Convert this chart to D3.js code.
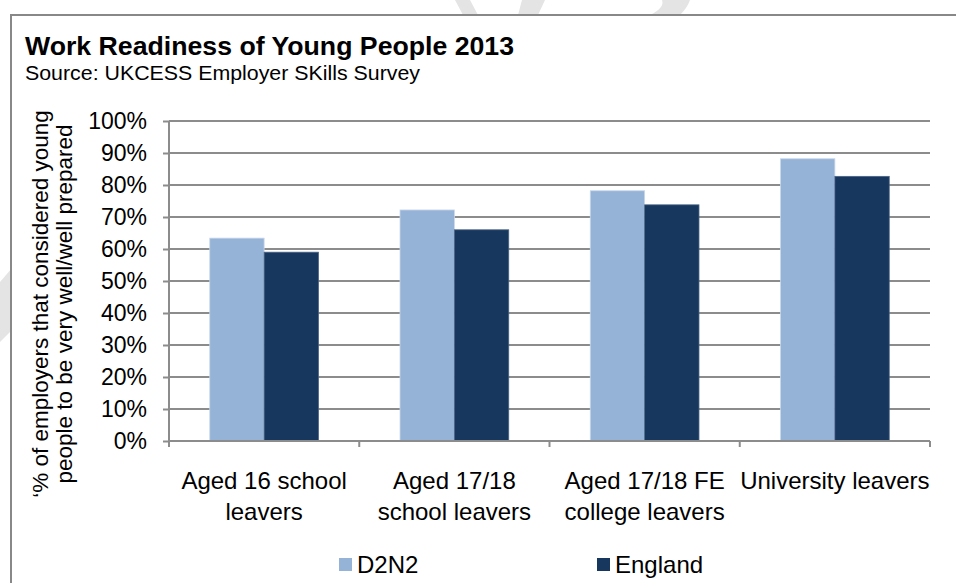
<!DOCTYPE html>
<html>
<head>
<meta charset="utf-8">
<script src="https://cdn.jsdelivr.net/npm/d3@7"></script>
<style>
  body { margin: 0; background: #fff; }
  svg { display: block; font-family: "Liberation Sans", Arial, sans-serif; }
</style>
</head>
<body>
<div id="app"></div>
<script>
// data
const categories = [
  ['Aged 16 school', 'leavers'],
  ['Aged 17/18', 'school leavers'],
  ['Aged 17/18 FE', 'college leavers'],
  ['University leavers']
]
const seriesNames = ['D2N2', 'England']
const d2n2 = [0.634, 0.722, 0.782, 0.882]
const england = [0.59, 0.66, 0.738, 0.827]
const yTicks = [0, 0.1, 0.2, 0.3, 0.4, 0.5, 0.6, 0.7, 0.8, 0.9, 1]
const colors = ['#95b3d7', '#17375e']

const W = 956, H = 583
const plot = {left: 169, right: 930, top: 121, bottom: 441}

const svg = d3.select('#app').append('svg')
    .attr('width', W)
    .attr('height', H)

// faint watermark bits showing outside the chart frame
const wm = svg.append('g').attr('fill', '#e4e4e4')
wm.append('path').attr('d', 'M455,0 L470,0 L478,15 L463,15 Z')
wm.append('path').attr('d', 'M522,0 L545,0 L538,15 L518,15 Z')
wm.append('path').attr('d', 'M600,0 L690,0 C688,6 684,11 680,15 L650,15 C660,10 664,5 662,0 Z')
wm.append('path').attr('d', 'M0,282 L12,268 L12,330 L0,342 Z')

// chart frame
svg.append('rect')
    .attr('x', 11).attr('y', 15)
    .attr('width', W + 20).attr('height', H + 20)
    .attr('fill', '#fff')
    .attr('stroke', '#888')
    .attr('stroke-width', 2)

// titles
svg.append('text')
    .attr('x', 25).attr('y', 55)
    .attr('font-size', 26)
    .attr('font-weight', 'bold')
    .attr('fill', '#000')
    .attr('textLength', 489)
    .attr('lengthAdjust', 'spacingAndGlyphs')
    .text('Work Readiness of Young People 2013')

svg.append('text')
    .attr('x', 25).attr('y', 80)
    .attr('font-size', 20)
    .attr('fill', '#000')
    .attr('textLength', 395)
    .attr('lengthAdjust', 'spacingAndGlyphs')
    .text('Source: UKCESS  Employer SKills Survey')

const x0 = d3.scaleBand()
    .domain(d3.range(categories.length))
    .range([plot.left, plot.right])

const barW = x0.bandwidth() / 3.5
const x1 = d3.scaleBand()
    .domain(seriesNames)
    .range([x0.bandwidth() / 2 - barW, x0.bandwidth() / 2 + barW])

const y = d3.scaleLinear()
    .domain([0, 1])
    .range([plot.bottom, plot.top])

// gridlines
svg.append('g')
    .selectAll('line')
    .data(yTicks.slice(1))
    .join('line')
    .attr('x1', plot.left).attr('x2', plot.right)
    .attr('y1', d => y(d)).attr('y2', d => y(d))
    .attr('stroke', '#8c8c8c')
    .attr('stroke-width', 2)

// bars
const rows = d3.range(categories.length).map(i => ({i, vals: [d2n2[i], england[i]]}))
const groups = svg.append('g')
    .selectAll('g')
    .data(rows)
    .join('g')
    .attr('transform', d => 'translate(' + x0(d.i) + ',0)')

groups.selectAll('rect')
    .data(d => d.vals.map((v, k) => ({name: seriesNames[k], v, k})))
    .join('rect')
    .attr('x', d => x1(d.name))
    .attr('y', d => y(d.v))
    .attr('width', x1.bandwidth())
    .attr('height', d => y(0) - y(d.v))
    .attr('fill', d => colors[d.k])
    .attr('stroke', d => d.k == 0 ? '#c9d7ea' : '#4a6486')
    .attr('stroke-width', 0.8)

// y axis
const yAxis = d3.axisLeft(y)
    .tickValues(yTicks)
    .tickFormat(d3.format('.0%'))
    .tickSize(6)
    .tickPadding(16)

const gy = svg.append('g')
    .attr('transform', 'translate(' + plot.left + ',0)')
    .call(yAxis)
gy.select('.domain').attr('stroke', '#8c8c8c').attr('stroke-width', 2)
    .attr('d', 'M0,' + plot.top + 'V' + plot.bottom)
gy.selectAll('.tick line').attr('stroke', '#8c8c8c').attr('stroke-width', 2)
gy.selectAll('.tick text')
    .attr('font-size', 23)
    .attr('font-family', '"Liberation Sans", Arial, sans-serif')
    .attr('fill', '#000')

// x axis
const xAxis = d3.axisBottom(x0).tickSize(0).tickFormat('')
const gx = svg.append('g')
    .attr('transform', 'translate(0,' + plot.bottom + ')')
    .call(xAxis)
gx.select('.domain').attr('stroke', '#8c8c8c').attr('stroke-width', 2)
    .attr('d', 'M' + plot.left + ',0H' + plot.right)

// category separators
gx.selectAll('.sep')
    .data(d3.range(categories.length + 1))
    .join('line')
    .attr('x1', d => plot.left + d * x0.step())
    .attr('x2', d => plot.left + d * x0.step())
    .attr('y1', 0).attr('y2', 6)
    .attr('stroke', '#8c8c8c')
    .attr('stroke-width', 2)

// category labels
const labels = svg.append('g')
    .selectAll('text')
    .data(categories)
    .join('text')
    .attr('text-anchor', 'middle')
    .attr('font-size', 24)
    .attr('fill', '#000')
labels.selectAll('tspan')
    .data((d, i) => d.map(l => ({l, i})))
    .join('tspan')
    .attr('x', d => x0(d.i) + x0.bandwidth() / 2)
    .attr('y', (d, j) => 489 + j * 31)
    .text(d => d.l)

// y axis title
const yTitle = svg.append('text')
    .attr('transform', 'translate(0,304) rotate(-90)')
    .attr('text-anchor', 'middle')
    .attr('font-size', 22.5)
    .attr('fill', '#000')
yTitle.append('tspan').attr('x', 0).attr('y', 48).text('‘% of employers that considered  young')
yTitle.append('tspan').attr('x', 0).attr('y', 72).text('people to be very well/well prepared')

// legend
const legendX = [339, 597]
const legend = svg.append('g')
    .selectAll('g')
    .data(seriesNames)
    .join('g')
    .attr('transform', (d, i) => 'translate(' + legendX[i] + ',558)')
legend.append('rect')
    .attr('width', 13).attr('height', 13)
    .attr('fill', (d, i) => colors[i])
legend.append('text')
    .attr('x', 18).attr('y', 15)
    .attr('font-size', 24)
    .attr('fill', '#000')
    .text(d => d)
</script>
</body>
</html>
